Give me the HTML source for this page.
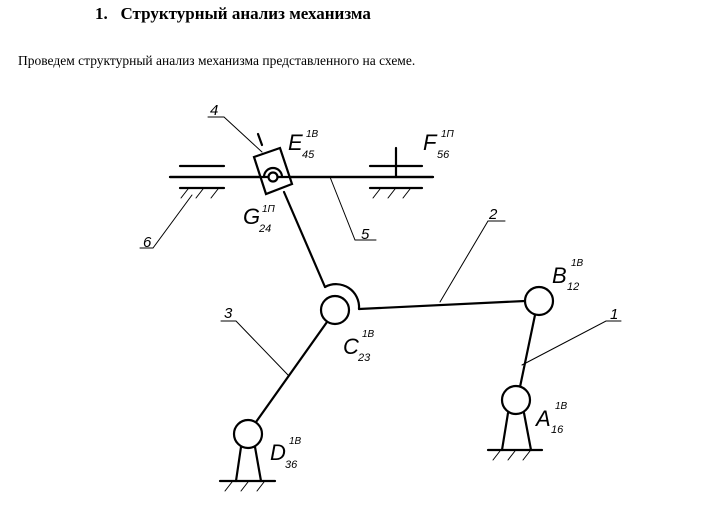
<!DOCTYPE html>
<html><head><meta charset="utf-8"><style>
body{margin:0;background:#fff;width:717px;height:511px;overflow:hidden;font-family:"Liberation Serif",serif}
.t{position:absolute;left:95px;top:4px;font-weight:bold;font-size:17px}
.p{position:absolute;left:18px;top:53px;font-size:13.5px}
svg{position:absolute;left:0;top:0}
text{font-family:"Liberation Sans",sans-serif;font-style:italic}
</style></head><body>
<div class="t">1.&nbsp;&nbsp; Структурный анализ механизма</div>
<div class="p">Проведем структурный анализ механизма представленного на схеме.</div>
<svg width="717" height="511" stroke="#000" fill="none" stroke-linecap="round">
<g stroke-width="2.2">
<line x1="170" y1="177" x2="433" y2="177"/>
<line x1="180" y1="166" x2="224" y2="166"/><line x1="180" y1="188" x2="224" y2="188"/>
<line x1="370" y1="166" x2="422" y2="166"/><line x1="370" y1="188" x2="422" y2="188"/>
<line x1="396" y1="148" x2="396" y2="177"/>
<polygon points="254,157 280,148 292,184 266,194" fill="#fff"/>
<line x1="170" y1="177" x2="433" y2="177"/>
<path d="M264,177 A9,9 0 0 1 282,177"/>
<circle cx="273" cy="177" r="4.5" fill="#fff"/>
<line x1="258" y1="134" x2="262" y2="145"/>
<line x1="284" y1="192" x2="325" y2="287"/>
<path d="M325,287 A23,23 0 0 1 359,309"/>
<line x1="359" y1="309" x2="525" y2="301"/>
<circle cx="335" cy="310" r="14" fill="#fff"/>
<circle cx="539" cy="301" r="14" fill="#fff"/>
<line x1="535" y1="315" x2="520" y2="387"/>
<circle cx="516" cy="400" r="14" fill="#fff"/>
<line x1="508" y1="413" x2="502" y2="450"/><line x1="524" y1="413" x2="531" y2="450"/>
<line x1="488" y1="450" x2="542" y2="450"/>
<line x1="327" y1="322" x2="256" y2="422"/>
<circle cx="248" cy="434" r="14" fill="#fff"/>
<line x1="241" y1="447" x2="236" y2="481"/><line x1="255" y1="447" x2="261" y2="481"/>
<line x1="220" y1="481" x2="275" y2="481"/>
</g>
<g stroke-width="1">
<line x1="188" y1="189" x2="181" y2="198"/><line x1="203" y1="189" x2="196" y2="198"/><line x1="218" y1="189" x2="211" y2="198"/>
<line x1="380" y1="189" x2="373" y2="198"/><line x1="395" y1="189" x2="388" y2="198"/><line x1="410" y1="189" x2="403" y2="198"/>
<line x1="500" y1="451" x2="493" y2="460"/><line x1="515" y1="451" x2="508" y2="460"/><line x1="530" y1="451" x2="523" y2="460"/>
<line x1="232" y1="482" x2="225" y2="491"/><line x1="248" y1="482" x2="241" y2="491"/><line x1="264" y1="482" x2="257" y2="491"/>
<polyline points="208,117 224,117 262,152"/>
<polyline points="330,177 355,240 376,240"/>
<polyline points="140,248 153,248 192,195"/>
<polyline points="440,302 488,221 505,221"/>
<polyline points="288,375 236,321 221,321"/>
<polyline points="522,365 606,321 621,321"/>
</g>
<g fill="#000" stroke="none" font-size="22">
<text x="210" y="115" font-size="15">4</text>
<text x="361" y="239" font-size="15">5</text>
<text x="143" y="247" font-size="15">6</text>
<text x="489" y="219" font-size="15">2</text>
<text x="224" y="318" font-size="15">3</text>
<text x="610" y="319" font-size="15">1</text>
<text x="288" y="150">E</text><text x="302" y="158" font-size="11">45</text><text x="306" y="137" font-size="10">1B</text>
<text x="423" y="150">F</text><text x="437" y="158" font-size="11">56</text><text x="441" y="137" font-size="10">1П</text>
<text x="243" y="224">G</text><text x="259" y="232" font-size="11">24</text><text x="262" y="212" font-size="10">1П</text>
<text x="552" y="283">B</text><text x="567" y="290" font-size="11">12</text><text x="571" y="266" font-size="10">1B</text>
<text x="343" y="354">C</text><text x="358" y="361" font-size="11">23</text><text x="362" y="337" font-size="10">1B</text>
<text x="536" y="426">A</text><text x="551" y="433" font-size="11">16</text><text x="555" y="409" font-size="10">1B</text>
<text x="270" y="460">D</text><text x="285" y="468" font-size="11">36</text><text x="289" y="444" font-size="10">1B</text>
</g>
</svg>
</body></html>
